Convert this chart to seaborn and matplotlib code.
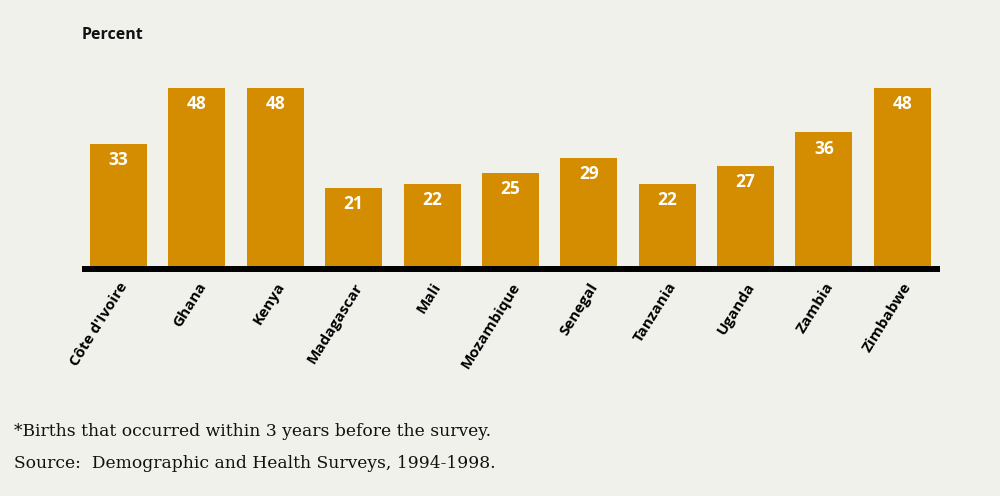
import matplotlib
matplotlib.use("Agg")
import matplotlib.pyplot as plt
import seaborn as sns
import pandas as pd

countries = ["Côte d'Ivoire", "Ghana", "Kenya", "Madagascar", "Mali", "Mozambique",
             "Senegal", "Tanzania", "Uganda", "Zambia", "Zimbabwe"]
percent = [33, 48, 48, 21, 22, 25, 29, 22, 27, 36, 48]

bg = "#f1f1eb"
bar_color = "#d48c00"

sns.set_theme(style="white")
plt.rcParams["font.family"] = ["Open Sans", "DejaVu Sans"]

df = pd.DataFrame({"country": countries, "percent": percent})

fig = plt.figure(figsize=(10, 4.96), dpi=100, facecolor=bg)
ax = fig.add_axes([0.082, (496 - 266) / 496, 0.858, (266 - 59) / 496])
ax.set_facecolor(bg)

sns.barplot(data=df, x="country", y="percent", color=bar_color, width=0.727,
            saturation=1, linewidth=0, edgecolor="none", ax=ax, zorder=2)

ax.set_xlim(-0.466, 10.48)
ax.set_ylim(0, 55.8)

for i, v in enumerate(percent):
    ax.text(i, v - 1.9, f"{v}", ha="center", va="top", color="white",
            fontsize=12.5, fontweight="bold")

for s in ["top", "right", "left"]:
    ax.spines[s].set_visible(False)
sp = ax.spines["bottom"]
sp.set_color("black")
sp.set_linewidth(4.3)
sp.set_capstyle("butt")
sp.set_position(("outward", 2.2))
sp.set_zorder(3)
ax.set_yticks([])
ax.set_xlabel("")
ax.set_ylabel("")
ax.tick_params(axis="x", length=0, pad=8)
ax.set_xticks(range(len(countries)))
ax.set_xticklabels(countries, rotation=58, ha="right", rotation_mode="anchor",
                   fontsize=11, fontweight="bold", color="black")

fig.text(0.082, 1 - 35 / 496, "Percent", ha="left", va="center",
         fontsize=11.5, fontweight="bold", color="#111111")

fig.text(0.014, 1 - 431 / 496, "*Births that occurred within 3 years before the survey.",
         ha="left", va="center", fontsize=12.3, family="DejaVu Serif", color="#111111")
fig.text(0.014, 1 - 463 / 496, "Source:  Demographic and Health Surveys, 1994-1998.",
         ha="left", va="center", fontsize=12.3, family="DejaVu Serif", color="#111111")

fig.savefig("out.png", dpi=100, facecolor=bg)
